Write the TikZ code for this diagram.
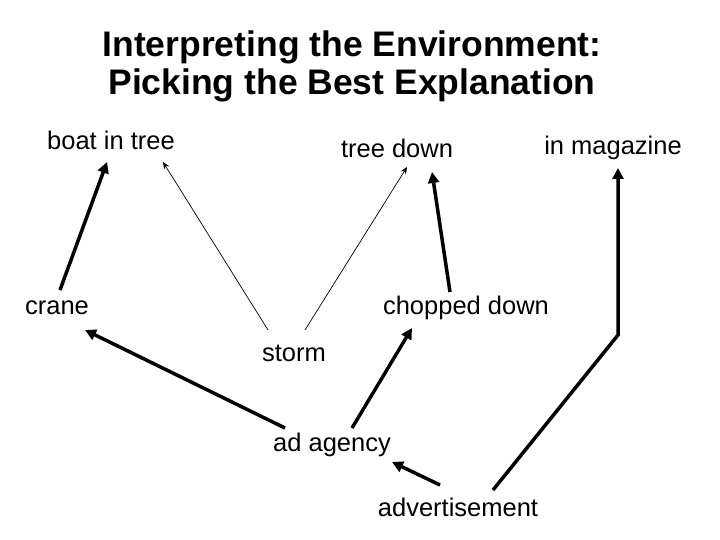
\documentclass[tikz,border=0pt]{standalone}
\usepackage{fontspec}
\setmainfont{Liberation Sans}
\usetikzlibrary{arrows.meta}
\begin{document}
\begin{tikzpicture}[x=1pt,y=-1pt,
  lbl/.style={font=\fontsize{25.5}{30}\selectfont, inner sep=0pt},
  thk/.style={line width=3.5pt,-{Triangle[length=11pt,width=11pt]}},
  thn/.style={line width=0.7pt,-{Stealth[length=7pt,width=6pt]}}]
\useasboundingbox (0,0) rectangle (720,540);
\node[font=\bfseries\fontsize{35.5}{38}\selectfont, align=center] (title) at (352,66) {Interpreting the Environment:\\Picking the Best Explanation};
\node[lbl] (boat) at (111,140) {boat in tree};
\node[lbl] (treedown) at (397,148) {tree down};
\node[lbl] (mag) at (613,148) {in magazine};
\node[lbl] (crane) at (57,308) {crane};
\node[lbl] (chopped) at (466,308) {chopped down};
\node[lbl] (storm) at (294,353) {storm};
\node[lbl] (agency) at (332,445) {ad agency};
\node[lbl] (advert) at (458,507) {advertisement};
\coordinate (a1) at (60,290); \coordinate (b1) at (107,162);
\coordinate (a2) at (268,330); \coordinate (b2) at (163,162);
\coordinate (a3) at (305,330); \coordinate (b3) at (407,167);
\coordinate (a4) at (450,292); \coordinate (b4) at (432,172);
\coordinate (a5) at (493,490); \coordinate (m5) at (618,335); \coordinate (b5) at (618,168);
\coordinate (a6) at (285,428); \coordinate (b6) at (85,330);
\coordinate (a7) at (352,428); \coordinate (b7) at (412,328);
\coordinate (a8) at (440,485); \coordinate (b8) at (392,462);
\draw[thk] (a1) -- (b1);
\draw[thn] (a2) -- (b2);
\draw[thn] (a3) -- (b3);
\draw[thk] (a4) -- (b4);
\draw[thk,line join=miter] (a5) -- (m5) -- (b5);
\draw[thk] (a6) -- (b6);
\draw[thk] (a7) -- (b7);
\draw[thk] (a8) -- (b8);
\end{tikzpicture}
\end{document}
